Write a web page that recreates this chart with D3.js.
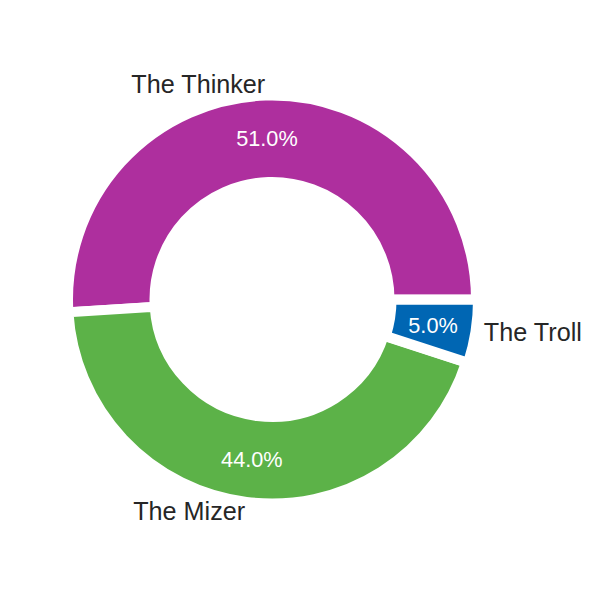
<!DOCTYPE html>
<html>
<head>
<meta charset="utf-8">
<script src="https://cdn.jsdelivr.net/npm/d3@7"></script>
<style>
  body { margin: 0; background: #fff; }
  svg { display: block; }
</style>
</head>
<body>
<svg id="chart" width="600" height="600"></svg>
<script>
// chart data
var labels = ["The Thinker", "The Mizer", "The Troll"];
var shares = [51, 44, 5];
var colors = ["#ae2f9e", "#5cb248", "#0066b3"];
var explode = [0, 0, 0.01];

var width = 600, height = 600;
var cx = 272, cy = 299.5;
var outerR = 204, innerR = 117.5;

var svg = d3.select("#chart");
var g = svg.append("g").attr("transform", "translate(" + cx + "," + cy + ")");

// matplotlib style: start at 3 o'clock, go counterclockwise
var pie = d3.pie()
    .sort(null)
    .startAngle(Math.PI / 2)
    .endAngle(Math.PI / 2 - 2 * Math.PI)
    .value(function (d) { return d; });

var arcs = pie(shares);

var arc = d3.arc().innerRadius(innerR).outerRadius(outerR);

function mid(d) { return (d.startAngle + d.endAngle) / 2; }

g.selectAll("path.wedge")
    .data(arcs)
    .enter().append("path")
    .attr("class", "wedge")
    .attr("transform", function (d, i) {
        var a = mid(d), e = explode[i] * outerR;
        return "translate(" + (Math.sin(a) * e) + "," + (-Math.cos(a) * e) + ")";
    })
    .attr("d", arc)
    .attr("fill", function (d, i) { return colors[i]; })
    .attr("stroke", "#fff")
    .attr("stroke-width", 10)
    .attr("stroke-linejoin", "miter");

// outside labels
var labelR = 214.5;
g.selectAll("text.label")
    .data(arcs)
    .enter().append("text")
    .attr("class", "label")
    .attr("x", function (d) { return Math.sin(mid(d)) * labelR; })
    .attr("y", function (d) { return -Math.cos(mid(d)) * labelR; })
    .attr("dy", "0.3em")
    .attr("text-anchor", function (d) { return Math.sin(mid(d)) > 0 ? "start" : "end"; })
    .style("font-family", "'Liberation Sans', Arial, sans-serif")
    .style("font-size", "25.2px")
    .style("fill", "#262626")
    .text(function (d, i) { return labels[i]; });

// percentages inside the ring
var pctR = 161;
g.selectAll("text.pct")
    .data(arcs)
    .enter().append("text")
    .attr("class", "pct")
    .attr("x", function (d, i) { return Math.sin(mid(d)) * (pctR + explode[i] * outerR); })
    .attr("y", function (d, i) { return -Math.cos(mid(d)) * (pctR + explode[i] * outerR); })
    .attr("dy", "0.35em")
    .attr("text-anchor", "middle")
    .style("font-family", "'Liberation Sans', Arial, sans-serif")
    .style("font-size", "21.7px")
    .style("fill", "#fff")
    .text(function (d) { return d3.format(".1f")(d.value) + "%"; });
</script>
</body>
</html>
